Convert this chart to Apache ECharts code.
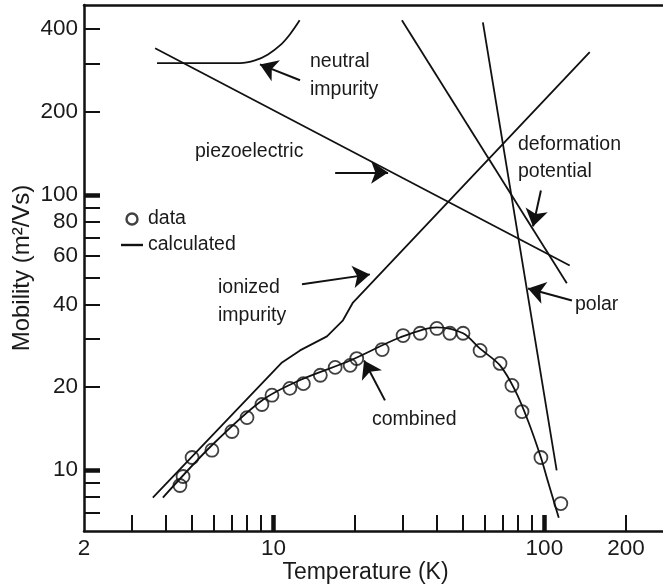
<!DOCTYPE html>
<html><head><meta charset="utf-8">
<script src="https://cdn.jsdelivr.net/npm/echarts@6/dist/echarts.min.js"></script>
<style>html,body{margin:0;padding:0;background:#fff}#c{width:663px;height:587px}</style>
</head><body><div id="c"></div>
<script>
// ---- axis ticks / labels ----
const xTickValues = [3,4,5,6,7,8,9,10,20,30,40,50,60,70,80,90,100,200];
const xLabelValues = [2,10,100,200];
const xMajorTicks = [10,100];
const yTickValues = [7,8,9,10,20,30,40,50,60,70,80,90,100,200,300,400];
const yLabelValues = [10,20,40,60,80,100,200,400];
const yMajorTicks = [10,100];

// ---- measured data (circles) ----
const dataT  = [4.52,4.64,5.01,5.93,7.03,7.99,9.07,9.88,11.5,12.9,14.9,16.9,19.2,20.3,25.2,30.1,34.8,40.1,44.8,50.1,57.9,68.6,75.9,82.7,97.1,115];
const dataMu = [8.78,9.47,11.1,11.8,13.8,15.5,17.3,18.7,19.8,20.6,22.1,23.6,24.0,25.4,27.4,30.8,31.4,32.7,31.4,31.4,27.2,24.4,20.3,16.3,11.1,7.55];

// ---- calculated curves ----
const piezoT = [3.66,124];
const piezoMu = [341,55.4];
const deformT = [29.8,121];
const deformMu = [431,47.7];
const polarT = [59.3,111];
const polarMu = [424,9.96];
const neutralT = [3.72,7.53,8.55,9.55,10.6,11.5,12.5];
const neutralMu = [301,301,308,324,350,383,431];
const ionizedT = [3.59,10.76,12.54,15.76,18.06,19.66,147];
const ionizedMu = [7.94,24.6,27.2,30.6,35.0,40.6,330];
const combinedT = [3.91,5.93,9.07,12.5,19.2,29.3,40.1,50.1,57.9,68.6,77.9,87.0,97.1,103,113];
const combinedMu = [7.94,12.3,17.9,21.2,25.0,30.3,33.0,31.4,27.6,24.0,19.5,15.1,11.1,9.1,6.7];

// ---- annotation arrows (tail T, tail mu, tip T, tip mu) ----
const arrowNeutral  = [12.54,260.9, 8.92,298];
const arrowPiezo    = [16.9,120.7, 26.5,120.7];
const arrowDeform   = [97.1,103.8, 90.8,76.8];
const arrowIonized  = [12.75,47.3, 22.7,51.4];
const arrowPolar    = [126.4,41.3, 87.0,45.7];
const arrowCombined = [25.8,17.9, 21.6,25.0];

const labelTexts = ['neutral','impurity','piezoelectric','deformation','potential','ionized','impurity','polar','combined'];

const FONT = "'Liberation Sans', Arial, Helvetica, sans-serif";
const INK = '#111';
const TXT = '#1a1a1a';
const zip = (a,b) => a.map((v,i)=>[v,b[i]]);

const chart = echarts.init(document.getElementById('c'));
const xBase = {type:'log', logBase:10, min:2, max:274, gridIndex:0, splitLine:{show:false}, minorTick:{show:false}, minorSplitLine:{show:false}};
const yBase = {type:'log', logBase:10, min:6, max:490, gridIndex:0, splitLine:{show:false}, minorTick:{show:false}, minorSplitLine:{show:false}};

const lineSeries = (T,M,extra) => Object.assign({
  type:'line', name:'calculated', data:zip(T,M), symbol:'none', showSymbol:false,
  lineStyle:{color:INK, width:1.8}, itemStyle:{color:INK}, silent:true, z:2
}, extra||{});

const arrows = [arrowNeutral,arrowPiezo,arrowDeform,arrowIonized,arrowPolar,arrowCombined];

const textPos = [
  [310,62],[310,90],[195,152],[518,145],[518,172],[218,288],[218,316],[575,305],[372,420]
];

const option = {
  animation:false,
  backgroundColor:'#fff',
  grid:{left:84,right:0,top:5,bottom:56, containLabel:false, outerBoundsMode:'none'},
  legend:{
    left:116, top:204, orient:'vertical', itemWidth:22, itemHeight:11, itemGap:6,
    selectedMode:false, symbolKeepAspect:true,
    textStyle:{fontSize:19.5, color:TXT, fontFamily:FONT, lineHeight:20},
    data:[
      {name:'data', icon:'circle', itemStyle:{color:'transparent', borderColor:INK, borderWidth:2.4}},
      {name:'calculated', icon:'path://M0,0H22V2.4H0Z', itemStyle:{color:INK, borderWidth:0}}
    ]
  },
  xAxis:[
    Object.assign({}, xBase, {
      position:'bottom', name:'Temperature (K)', nameLocation:'middle', nameGap:30, nameMoveOverlap:false,
      nameTextStyle:{fontSize:23, color:TXT, fontFamily:FONT, padding:[0,16,0,0]},
      axisLine:{show:true, lineStyle:{color:INK, width:2.5}},
      axisTick:{show:true, inside:true, length:16, customValues:xTickValues, lineStyle:{color:INK, width:2}},
      axisLabel:{show:true, customValues:xLabelValues, margin:6, fontSize:22.5, color:TXT, fontFamily:FONT}
    }),
    Object.assign({}, xBase, {
      position:'bottom',
      axisLine:{show:false}, axisLabel:{show:false},
      axisTick:{show:true, inside:true, length:16, customValues:xMajorTicks, lineStyle:{color:INK, width:4.5}}
    }),
    Object.assign({}, xBase, {
      position:'top',
      axisLine:{show:true, lineStyle:{color:INK, width:2.5}}, axisLabel:{show:false}, axisTick:{show:false}
    })
  ],
  yAxis:[
    Object.assign({}, yBase, {
      position:'left', name:'Mobility (m²/Vs)', nameLocation:'middle', nameGap:50, nameMoveOverlap:false,
      nameTextStyle:{fontSize:24, color:TXT, fontFamily:FONT},
      axisLine:{show:true, lineStyle:{color:INK, width:2.5}},
      axisTick:{show:true, inside:true, length:16, customValues:yTickValues, lineStyle:{color:INK, width:2}},
      axisLabel:{show:true, customValues:yLabelValues, margin:6, fontSize:22.5, color:TXT, fontFamily:FONT}
    }),
    Object.assign({}, yBase, {
      position:'left',
      axisLine:{show:false}, axisLabel:{show:false},
      axisTick:{show:true, inside:true, length:16, customValues:yMajorTicks, lineStyle:{color:INK, width:4.5}}
    })
  ],
  series:[
    lineSeries(piezoT, piezoMu),
    lineSeries(deformT, deformMu),
    lineSeries(polarT, polarMu),
    lineSeries(neutralT, neutralMu, {smooth:0.35}),
    lineSeries(ionizedT, ionizedMu),
    lineSeries(combinedT, combinedMu, {smooth:0.3}),
    {
      type:'scatter', name:'data', data:zip(dataT,dataMu), symbol:'circle', symbolSize:13,
      itemStyle:{color:'transparent', borderColor:INK, borderWidth:1.8}, silent:true, z:3
    },
    {
      type:'lines', name:'arrows', coordinateSystem:'cartesian2d', xAxisIndex:0, yAxisIndex:0,
      symbol:['none','arrow'], symbolSize:[1,17], silent:true, z:4,
      lineStyle:{color:INK, width:2, opacity:1, curveness:0},
      data: arrows.map(a=>({coords:[[a[0],a[1]],[a[2],a[3]]]}))
    }
  ],
  graphic: labelTexts.map((t,i)=>({
    type:'text', x:textPos[i][0], y:textPos[i][1], silent:true,
    style:{text:t, fontSize:19.5, fontFamily:FONT, fill:TXT, verticalAlign:'middle', align:'left'}
  }))
};
chart.setOption(option);
</script>
</body></html>
